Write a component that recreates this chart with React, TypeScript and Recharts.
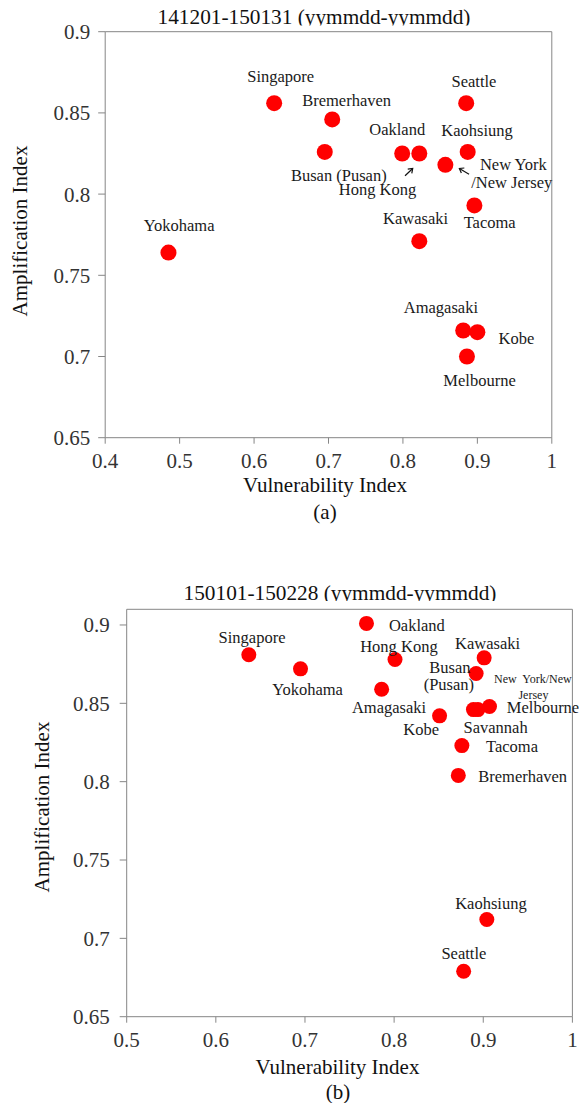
import { ScatterChart, Scatter, XAxis, YAxis, ReferenceLine } from 'recharts';

// (a) 141201-150131
const ports1 = ['Singapore', 'Bremerhaven', 'Seattle', 'Oakland', 'Kaohsiung', 'Busan (Pusan)', 'Hong Kong', 'New York/New Jersey', 'Tacoma', 'Kawasaki', 'Yokohama', 'Amagasaki', 'Kobe', 'Melbourne'];
const vuln1 = [0.627, 0.705, 0.885, 0.799, 0.887, 0.695, 0.822, 0.857, 0.896, 0.822, 0.485, 0.881, 0.9, 0.886];
const amp1 = [0.856, 0.846, 0.856, 0.825, 0.826, 0.826, 0.825, 0.818, 0.793, 0.771, 0.764, 0.716, 0.715, 0.7];
const xTicks1 = [0.4, 0.5, 0.6, 0.7, 0.8, 0.9, 1];
const yTicks1 = [0.65, 0.7, 0.75, 0.8, 0.85, 0.9];

// (b) 150101-150228
const ports2 = ['Oakland', 'Singapore', 'Yokohama', 'Hong Kong', 'Amagasaki', 'Kawasaki', 'Busan (Pusan)', 'Kobe', 'New York/New Jersey', 'Savannah', 'Melbourne', 'Tacoma', 'Bremerhaven', 'Kaohsiung', 'Seattle'];
const vuln2 = [0.769, 0.637, 0.695, 0.801, 0.786, 0.901, 0.892, 0.851, 0.889, 0.894, 0.907, 0.876, 0.872, 0.904, 0.878];
const amp2 = [0.901, 0.881, 0.872, 0.878, 0.859, 0.879, 0.869, 0.842, 0.846, 0.846, 0.848, 0.823, 0.804, 0.712, 0.679];
const xTicks2 = [0.5, 0.6, 0.7, 0.8, 0.9, 1];
const yTicks2 = [0.65, 0.7, 0.75, 0.8, 0.85, 0.9];

const FONT = "'Liberation Serif', 'Times New Roman', Times, serif";
const AXIS = '#868686';
const DOT = '#ff0000';

type Line = { text: string; dx: number; dy: number; size?: number; anchor?: 'start' | 'middle' | 'end' };
type Place = { lines: Line[]; arrow?: [number, number, number, number] };

// label placement relative to the dot centre
const place1: Record<string, Place> = {
  'Singapore': { lines: [{ text: 'Singapore', dx: 6.5, dy: -26.6 }] },
  'Bremerhaven': { lines: [{ text: 'Bremerhaven', dx: 14.4, dy: -18.6 }] },
  'Seattle': { lines: [{ text: 'Seattle', dx: 7.8, dy: -22 }] },
  'Oakland': { lines: [{ text: 'Oakland', dx: -5, dy: -24.3 }] },
  'Kaohsiung': { lines: [{ text: 'Kaohsiung', dx: 9.3, dy: -21.6 }] },
  'Busan (Pusan)': { lines: [{ text: 'Busan (Pusan)', dx: 14, dy: 23.3 }] },
  'Hong Kong': { lines: [{ text: 'Hong Kong', dx: -41.8, dy: 35.7 }], arrow: [-14.3, 22.3, -6.6, 15] },
  'New York/New Jersey': {
    lines: [{ text: 'New York', dx: 68, dy: -0.7 }, { text: '/New Jersey', dx: 66.4, dy: 17.6 }],
    arrow: [23.7, 9.3, 14, 3.6],
  },
  'Tacoma': { lines: [{ text: 'Tacoma', dx: 15.3, dy: 16.7 }] },
  'Kawasaki': { lines: [{ text: 'Kawasaki', dx: -3.7, dy: -23 }] },
  'Yokohama': { lines: [{ text: 'Yokohama', dx: 10.7, dy: -26.6 }] },
  'Amagasaki': { lines: [{ text: 'Amagasaki', dx: -22.3, dy: -22.7 }] },
  'Kobe': { lines: [{ text: 'Kobe', dx: 39.1, dy: 6.6 }] },
  'Melbourne': { lines: [{ text: 'Melbourne', dx: 12.6, dy: 23.7 }] },
};

const place2: Record<string, Place> = {
  'Oakland': { lines: [{ text: 'Oakland', dx: 50.4, dy: 1.7 }] },
  'Singapore': { lines: [{ text: 'Singapore', dx: 3.2, dy: -17.3 }] },
  'Yokohama': { lines: [{ text: 'Yokohama', dx: 7, dy: 21 }] },
  'Hong Kong': { lines: [{ text: 'Hong Kong', dx: 3.9, dy: -13.3 }] },
  'Amagasaki': { lines: [{ text: 'Amagasaki', dx: 7.4, dy: 18.7 }] },
  'Kawasaki': { lines: [{ text: 'Kawasaki', dx: 3.5, dy: -14.7 }] },
  'Busan (Pusan)': { lines: [{ text: 'Busan', dx: -26.3, dy: -5.6 }, { text: '(Pusan)', dx: -27.2, dy: 11.2 }] },
  'Kobe': { lines: [{ text: 'Kobe', dx: -18.4, dy: 14 }] },
  'New York/New Jersey': {
    lines: [{ text: 'New  York/New', dx: 59.5, dy: -30.3, size: 12 }, { text: 'Jersey', dx: 60, dy: -14.3, size: 12 }],
  },
  'Savannah': { lines: [{ text: 'Savannah', dx: 17.7, dy: 18 }] },
  'Melbourne': { lines: [{ text: 'Melbourne', dx: 17.3, dy: 0.6, anchor: 'start' }] },
  'Tacoma': { lines: [{ text: 'Tacoma', dx: 50.1, dy: 1 }] },
  'Bremerhaven': { lines: [{ text: 'Bremerhaven', dx: 64.4, dy: 1.6 }] },
  'Kaohsiung': { lines: [{ text: 'Kaohsiung', dx: 4.1, dy: -15.7 }] },
  'Seattle': { lines: [{ text: 'Seattle', dx: 0.2, dy: -18 }] },
};

const toRows = (names: string[], xs: number[], ys: number[]) =>
  names.map((name, i) => ({ name, x: xs[i], y: ys[i] }));

const makeShape = (places: Record<string, Place>, r: number) => (props: any) => {
  const { cx, cy, payload } = props;
  const p = places[payload.name];
  let arrow = null;
  if (p && p.arrow) {
    const [x1, y1, x2, y2] = p.arrow;
    const ang = Math.atan2(y2 - y1, x2 - x1);
    const h = 5;
    const a1 = ang + Math.PI * 0.8;
    const a2 = ang - Math.PI * 0.8;
    const tx = cx + x2;
    const ty = cy + y2;
    arrow = (
      <g stroke="#111" strokeWidth={1.2} fill="none">
        <line x1={cx + x1} y1={cy + y1} x2={tx} y2={ty} />
        <polyline points={`${tx + h * Math.cos(a1)},${ty + h * Math.sin(a1)} ${tx},${ty} ${tx + h * Math.cos(a2)},${ty + h * Math.sin(a2)}`} />
      </g>
    );
  }
  return (
    <g>
      <circle cx={cx} cy={cy} r={r} fill={DOT} />
      {p &&
        p.lines.map((l) => (
          <text
            key={l.text}
            x={cx + l.dx}
            y={cy + l.dy}
            textAnchor={l.anchor || 'middle'}
            dominantBaseline="central"
            fontSize={l.size || 16.5}
            fill="#1a1a1a"
            style={{ whiteSpace: 'pre', fontFamily: FONT }}
          >
            {l.text}
          </text>
        ))}
      {arrow}
    </g>
  );
};

const fmt = (v: number) => String(Number(v.toFixed(2)));
const tickStyle = { fontSize: 21, fill: '#333', fontFamily: FONT, style: { fontFamily: FONT } };

export default function App() {
  const data1 = toRows(ports1, vuln1, amp1);
  const data2 = toRows(ports2, vuln2, amp2);
  return (
    <div style={{ position: 'absolute', left: 0, top: 0, width: 579, height: 1103, background: '#fff', fontFamily: FONT }}>
      <div style={{ position: 'absolute', left: 0, top: 0 }}>
        <ScatterChart width={579} height={482} margin={{ top: 31.7, right: 27.2, bottom: 14.3, left: 0 }}>
          <XAxis
            type="number"
            dataKey="x"
            domain={[0.4, 1]}
            ticks={xTicks1}
            interval={0}
            height={30}
            stroke={AXIS}
            tickSize={6}
            tickMargin={9}
            tick={tickStyle}
            tickFormatter={fmt}
          />
          <YAxis
            type="number"
            dataKey="y"
            domain={[0.65, 0.9]}
            ticks={yTicks1}
            interval={0}
            width={105.2}
            stroke={AXIS}
            tickSize={7}
            tickMargin={8}
            tick={tickStyle}
            tickFormatter={fmt}
          />
          <ReferenceLine x={1} stroke={AXIS} />
          <ReferenceLine y={0.9} stroke={AXIS} />
          <Scatter data={data1} isAnimationActive={false} shape={makeShape(place1, 8)} />
        </ScatterChart>
      </div>
      <div style={{ position: 'absolute', left: 0, top: 560 }}>
        <ScatterChart width={579} height={543} margin={{ top: 49.3, right: 6.6, bottom: 56.3, left: 0 }}>
          <XAxis
            type="number"
            dataKey="x"
            domain={[0.5, 1]}
            ticks={xTicks2}
            interval={0}
            height={30}
            stroke={AXIS}
            tickSize={6}
            tickMargin={9}
            tick={tickStyle}
            tickFormatter={fmt}
          />
          <YAxis
            type="number"
            dataKey="y"
            domain={[0.65, 0.91]}
            ticks={yTicks2}
            interval={0}
            width={126.7}
            stroke={AXIS}
            tickSize={7}
            tickMargin={10}
            tick={tickStyle}
            tickFormatter={fmt}
          />
          <ReferenceLine x={1} stroke={AXIS} />
          <ReferenceLine y={0.91} stroke={AXIS} />
          <Scatter data={data2} isAnimationActive={false} shape={makeShape(place2, 7.5)} />
        </ScatterChart>
      </div>
      <svg
        width={579}
        height={1103}
        style={{ position: 'absolute', left: 0, top: 0, pointerEvents: 'none', fontFamily: FONT }}
        fill="#111"
      >
        <defs>
          <clipPath id="t1">
            <rect x={0} y={0} width={579} height={25.5} />
          </clipPath>
          <clipPath id="t2">
            <rect x={0} y={570} width={579} height={31} />
          </clipPath>
        </defs>
        <text x={314} y={24} textAnchor="middle" fontSize={21.3} clipPath="url(#t1)">
          141201-150131 (yymmdd-yymmdd)
        </text>
        <text x={325} y={485} textAnchor="middle" dominantBaseline="central" fontSize={21}>
          Vulnerability Index
        </text>
        <text x={325} y={512} textAnchor="middle" dominantBaseline="central" fontSize={21}>
          (a)
        </text>
        <text x={20} y={231} textAnchor="middle" dominantBaseline="central" fontSize={21} transform="rotate(-90 20 231)">
          Amplification Index
        </text>

        <text x={340} y={600} textAnchor="middle" fontSize={21.3} clipPath="url(#t2)">
          150101-150228 (yymmdd-yymmdd)
        </text>
        <text x={337.5} y={1066.7} textAnchor="middle" dominantBaseline="central" fontSize={21}>
          Vulnerability Index
        </text>
        <text x={338} y={1092} textAnchor="middle" dominantBaseline="central" fontSize={21}>
          (b)
        </text>
        <text x={42} y={807} textAnchor="middle" dominantBaseline="central" fontSize={21} transform="rotate(-90 42 807)">
          Amplification Index
        </text>
      </svg>
    </div>
  );
}
